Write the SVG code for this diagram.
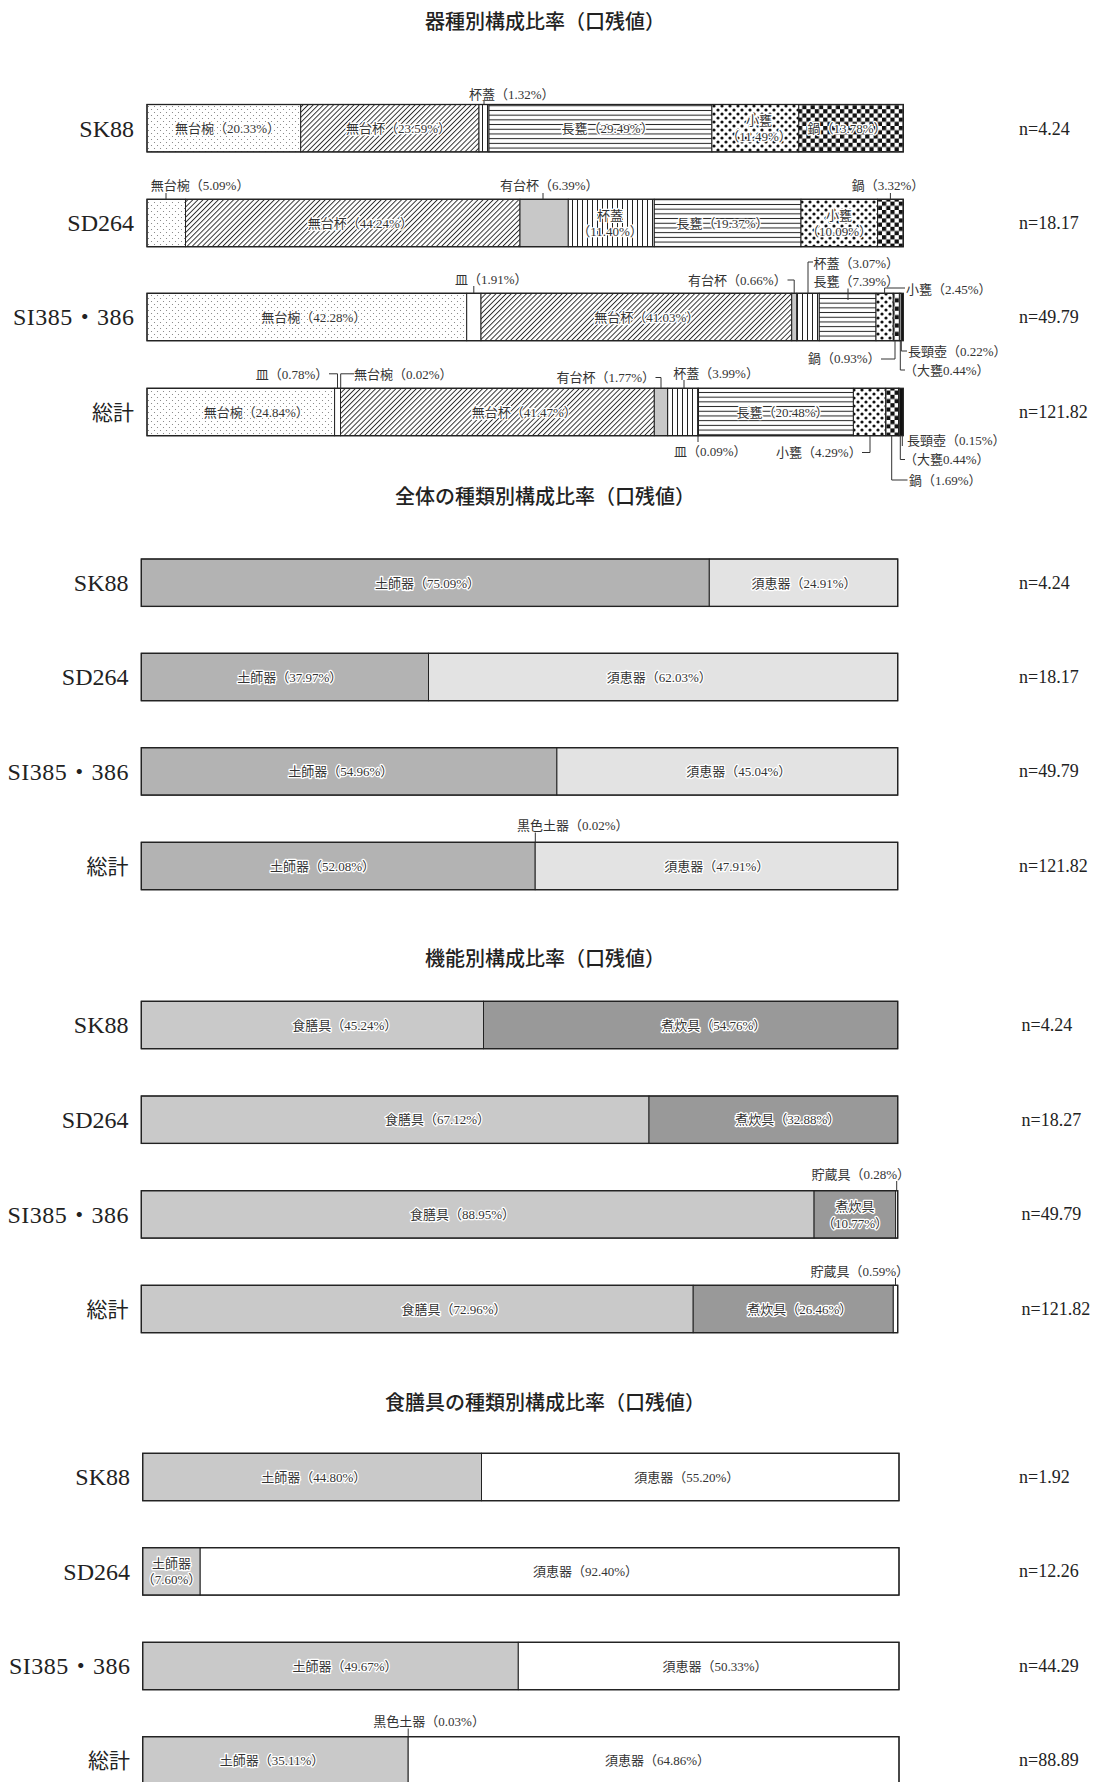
<svg xmlns="http://www.w3.org/2000/svg" width="1096" height="1782" viewBox="0 0 1096 1782">
<style>
.t{font-family:"Liberation Serif","Noto Sans CJK JP",serif;font-size:13px;fill:#333}
.in{fill:#333;stroke:#fff;stroke-width:2.6px;paint-order:stroke;stroke-linejoin:round;text-anchor:middle}
.e{text-anchor:end}
.row{font-family:"Liberation Serif","Noto Sans CJK JP",serif;font-size:24px;text-anchor:end;fill:#222}
.row2{font-family:"Liberation Serif","Noto Sans CJK JP",serif;font-size:21px;text-anchor:end;fill:#222}
.n{font-family:"Liberation Serif",serif;font-size:18px;fill:#222}
.title{font-family:"Noto Sans CJK JP",sans-serif;font-size:20px;font-weight:500;text-anchor:middle;fill:#222}
.s{stroke:#222;stroke-width:1}
.fr{fill:none;stroke:#222;stroke-width:1.3}
.ld{fill:none;stroke:#333;stroke-width:1}
</style>
<defs>
<pattern id="pDots" width="6" height="6" patternUnits="userSpaceOnUse"><rect width="6" height="6" fill="#fff"/><circle cx="1.5" cy="1.5" r="0.55" fill="#777"/><circle cx="4.5" cy="4.5" r="0.55" fill="#777"/></pattern>
<pattern id="pDiag" width="3.6" height="3.6" patternUnits="userSpaceOnUse" patternTransform="rotate(45)"><rect width="3.6" height="3.6" fill="#fff"/><line x1="0.5" y1="0" x2="0.5" y2="3.6" stroke="#222" stroke-width="0.9"/></pattern>
<pattern id="pVert" width="5" height="5" patternUnits="userSpaceOnUse"><rect width="5" height="5" fill="#fff"/><line x1="2.5" y1="0" x2="2.5" y2="5" stroke="#222" stroke-width="1"/></pattern>
<pattern id="pHor" width="4.7" height="4.7" patternUnits="userSpaceOnUse"><rect width="4.7" height="4.7" fill="#fff"/><line x1="0" y1="2.35" x2="4.7" y2="2.35" stroke="#222" stroke-width="1"/></pattern>
<pattern id="pBig" width="8" height="8" patternUnits="userSpaceOnUse"><rect width="8" height="8" fill="#fff"/><circle cx="2" cy="2" r="1.6" fill="#111"/><circle cx="6" cy="6" r="1.6" fill="#111"/></pattern>
<pattern id="pChk" width="8.4" height="8.4" patternUnits="userSpaceOnUse"><rect width="8.4" height="8.4" fill="#fff"/><rect width="4.2" height="4.2" fill="#111"/><rect x="4.2" y="4.2" width="4.2" height="4.2" fill="#111"/></pattern>
</defs>
<rect width="1096" height="1782" fill="#fff"/>

<!-- ===== Chart 1 ===== -->
<g id="title1"><text class="title" x="545" y="28.5">器種別構成比率（口残値）</text></g>

<g id="c1-sk88">
<text class="row" x="134" y="136.5">SK88</text>
<rect class="s" x="147" y="104.5" width="153.7" height="47.4" fill="url(#pDots)"/>
<rect class="s" x="300.7" y="104.5" width="178.3" height="47.4" fill="url(#pDiag)"/>
<rect class="s" x="479" y="104.5" width="10" height="47.4" fill="url(#pVert)"/>
<rect class="s" x="489" y="104.5" width="222.9" height="47.4" fill="url(#pHor)"/>
<rect class="s" x="711.9" y="104.5" width="86.9" height="47.4" fill="url(#pBig)"/>
<rect class="s" x="798.8" y="104.5" width="104.5" height="47.4" fill="url(#pChk)"/>
<rect class="fr" x="147" y="104.5" width="756.3" height="47.4"/>
<text class="t in" x="227.5" y="133">無台椀（20.33%）</text>
<text class="t in" x="398.5" y="133">無台杯（23.59%）</text>
<text class="t in" x="607.6" y="133">長甕（29.49%）</text>
<text class="t in" x="759" y="125">小甕</text>
<text class="t in" x="759" y="141">（11.49%）</text>
<text class="t in" x="847" y="133">鍋（13.78%）</text>
<text class="t" x="469" y="99">杯蓋（1.32%）</text>
<text class="n" x="1019" y="134.5">n=4.24</text>
</g>

<g id="c1-sd264">
<text class="row" x="134" y="231.3">SD264</text>
<rect class="s" x="147" y="199.3" width="38.5" height="47.4" fill="url(#pDots)"/>
<rect class="s" x="185.5" y="199.3" width="334.5" height="47.4" fill="url(#pDiag)"/>
<rect class="s" x="520" y="199.3" width="48.3" height="47.4" fill="#c8c8c8"/>
<rect class="s" x="568.3" y="199.3" width="86" height="47.4" fill="url(#pVert)"/>
<rect class="s" x="654.3" y="199.3" width="146.7" height="47.4" fill="url(#pHor)"/>
<rect class="s" x="801" y="199.3" width="76.5" height="47.4" fill="url(#pBig)"/>
<rect class="s" x="877.5" y="199.3" width="25.8" height="47.4" fill="url(#pChk)"/>
<rect class="fr" x="147" y="199.3" width="756.3" height="47.4"/>
<text class="t in" x="360.4" y="227.7">無台杯（44.24%）</text>
<text class="t in" x="610" y="220">杯蓋</text>
<text class="t in" x="610" y="236">（11.40%）</text>
<text class="t in" x="722.5" y="227.7">長甕（19.37%）</text>
<text class="t in" x="839" y="220">小甕</text>
<text class="t in" x="839" y="236">（10.09%）</text>
<text class="t" x="150.8" y="190">無台椀（5.09%）</text>
<text class="t" x="500" y="190">有台杯（6.39%）</text>
<text class="t" x="851.7" y="190">鍋（3.32%）</text>
<text class="n" x="1019" y="229">n=18.17</text>
</g>

<g id="c1-si385">
<text class="row" x="134" y="325.3" textLength="121" lengthAdjust="spacing">SI385・386</text>
<rect class="s" x="147" y="293.3" width="319.7" height="47.4" fill="url(#pDots)"/>
<rect class="s" x="466.7" y="293.3" width="14.3" height="47.4" fill="#fff"/>
<rect class="s" x="481" y="293.3" width="310.7" height="47.4" fill="url(#pDiag)"/>
<rect class="s" x="791.7" y="293.3" width="5" height="47.4" fill="#c8c8c8"/>
<rect class="s" x="796.7" y="293.3" width="22.6" height="47.4" fill="url(#pVert)"/>
<rect class="s" x="819.3" y="293.3" width="56.7" height="47.4" fill="url(#pHor)"/>
<rect class="s" x="876" y="293.3" width="17.3" height="47.4" fill="url(#pBig)"/>
<rect class="s" x="893.3" y="293.3" width="6.5" height="47.4" fill="url(#pChk)"/>
<rect class="s" x="899.8" y="293.3" width="1.4" height="47.4" fill="#fff"/>
<rect x="901.2" y="293.3" width="2.1" height="47.4" fill="#111"/>
<rect class="fr" x="147" y="293.3" width="756.3" height="47.4"/>
<text class="t in" x="313.8" y="321.7">無台椀（42.28%）</text>
<text class="t in" x="646.7" y="321.7">無台杯（41.03%）</text>
<text class="t" x="455" y="284">皿（1.91%）</text>
<text class="t e" x="786.7" y="284.5">有台杯（0.66%）</text>
<text class="t" x="813.5" y="267.5">杯蓋（3.07%）</text>
<text class="t" x="813.5" y="286">長甕（7.39%）</text>
<text class="t" x="906" y="294">小甕（2.45%）</text>
<text class="t e" x="880.5" y="363">鍋（0.93%）</text>
<text class="t" x="908" y="355.5">長頸壺（0.22%）</text>
<text class="t" x="904" y="374.5">（大甕0.44%）</text>
<text class="n" x="1019" y="323">n=49.79</text>
</g>

<g id="c1-total">
<text class="row2" x="134" y="419.5">総計</text>
<rect class="s" x="147" y="388.3" width="187.6" height="47.4" fill="url(#pDots)"/>
<rect class="s" x="334.6" y="388.3" width="5.9" height="47.4" fill="#fff"/>
<rect class="s" x="340.5" y="388.3" width="313.8" height="47.4" fill="url(#pDiag)"/>
<rect class="s" x="654.3" y="388.3" width="13.4" height="47.4" fill="#c8c8c8"/>
<rect class="s" x="667.7" y="388.3" width="30.1" height="47.4" fill="url(#pVert)"/>
<rect class="s" x="697.8" y="388.3" width="0.7" height="47.4" fill="#fff"/>
<rect class="s" x="698.5" y="388.3" width="154.9" height="47.4" fill="url(#pHor)"/>
<rect class="s" x="853.4" y="388.3" width="32.3" height="47.4" fill="url(#pBig)"/>
<rect class="s" x="885.7" y="388.3" width="12.8" height="47.4" fill="url(#pChk)"/>
<rect class="s" x="898.5" y="388.3" width="1.2" height="47.4" fill="#fff"/>
<rect x="899.7" y="388.3" width="3.6" height="47.4" fill="#111"/>
<rect class="fr" x="147" y="388.3" width="756.3" height="47.4"/>
<text class="t in" x="256.3" y="416.7">無台椀（24.84%）</text>
<text class="t in" x="524.2" y="416.7">無台杯（41.47%）</text>
<text class="t in" x="782.5" y="416.7">長甕（20.48%）</text>
<text class="t e" x="328.3" y="378.5">皿（0.78%）</text>
<text class="t" x="354" y="378.5">無台椀（0.02%）</text>
<text class="t e" x="655" y="382">有台杯（1.77%）</text>
<text class="t" x="673.3" y="378">杯蓋（3.99%）</text>
<text class="t" x="674" y="456">皿（0.09%）</text>
<text class="t e" x="861.7" y="457">小甕（4.29%）</text>
<text class="t" x="907" y="444.5">長頸壺（0.15%）</text>
<text class="t" x="904" y="464">（大甕0.44%）</text>
<text class="t" x="909" y="484.5">鍋（1.69%）</text>
<text class="n" x="1019" y="418">n=121.82</text>
</g>

<!-- ===== Chart 2 ===== -->
<g id="title2"><text class="title" x="545" y="503.5">全体の種類別構成比率（口残値）</text></g>

<g id="c2-sk88">
<text class="row" x="128.5" y="591">SK88</text>
<rect class="s" x="141.3" y="559" width="568" height="47.4" fill="#b3b3b3"/>
<rect class="s" x="709.3" y="559" width="188.4" height="47.4" fill="#e3e3e3"/>
<rect class="fr" x="141.3" y="559" width="756.4" height="47.4"/>
<text class="t in" x="427.5" y="587.5">土師器（75.09%）</text>
<text class="t in" x="804" y="587.5">須恵器（24.91%）</text>
<text class="n" x="1019" y="589">n=4.24</text>
</g>
<g id="c2-sd264">
<text class="row" x="128.5" y="685.3">SD264</text>
<rect class="s" x="141.3" y="653.3" width="287.2" height="47.4" fill="#b3b3b3"/>
<rect class="s" x="428.5" y="653.3" width="469.2" height="47.4" fill="#e3e3e3"/>
<rect class="fr" x="141.3" y="653.3" width="756.4" height="47.4"/>
<text class="t in" x="289.7" y="681.8">土師器（37.97%）</text>
<text class="t in" x="659.3" y="681.8">須恵器（62.03%）</text>
<text class="n" x="1019" y="683">n=18.17</text>
</g>
<g id="c2-si385">
<text class="row" x="128.5" y="779.7" textLength="121" lengthAdjust="spacing">SI385・386</text>
<rect class="s" x="141.3" y="747.7" width="415.6" height="47.4" fill="#b3b3b3"/>
<rect class="s" x="556.9" y="747.7" width="340.8" height="47.4" fill="#e3e3e3"/>
<rect class="fr" x="141.3" y="747.7" width="756.4" height="47.4"/>
<text class="t in" x="340.8" y="776.2">土師器（54.96%）</text>
<text class="t in" x="738.7" y="776.2">須恵器（45.04%）</text>
<text class="n" x="1019" y="777.4">n=49.79</text>
</g>
<g id="c2-total">
<text class="row2" x="128.5" y="873.5">総計</text>
<rect class="s" x="141.3" y="842.3" width="393.9" height="47.4" fill="#b3b3b3"/>
<rect class="s" x="535.2" y="842.3" width="362.5" height="47.4" fill="#e3e3e3"/>
<rect class="fr" x="141.3" y="842.3" width="756.4" height="47.4"/>
<text class="t in" x="322.5" y="870.8">土師器（52.08%）</text>
<text class="t in" x="716.7" y="870.8">須恵器（47.91%）</text>
<text class="t" x="517" y="830">黒色土器（0.02%）</text>
<text class="n" x="1019" y="872">n=121.82</text>
</g>

<!-- ===== Chart 3 ===== -->
<g id="title3"><text class="title" x="545" y="966">機能別構成比率（口残値）</text></g>

<g id="c3-sk88">
<text class="row" x="128.5" y="1033.3">SK88</text>
<rect class="s" x="141.3" y="1001.3" width="342.2" height="47.4" fill="#c9c9c9"/>
<rect class="s" x="483.5" y="1001.3" width="414.2" height="47.4" fill="#999"/>
<rect class="fr" x="141.3" y="1001.3" width="756.4" height="47.4"/>
<text class="t in" x="344.7" y="1029.7">食膳具（45.24%）</text>
<text class="t in" x="713.8" y="1029.7">煮炊具（54.76%）</text>
<text class="n" x="1021.5" y="1031">n=4.24</text>
</g>
<g id="c3-sd264">
<text class="row" x="128.5" y="1128">SD264</text>
<rect class="s" x="141.3" y="1096" width="507.7" height="47.4" fill="#c9c9c9"/>
<rect class="s" x="649" y="1096" width="248.7" height="47.4" fill="#999"/>
<rect class="fr" x="141.3" y="1096" width="756.4" height="47.4"/>
<text class="t in" x="437.5" y="1124.4">食膳具（67.12%）</text>
<text class="t in" x="787.8" y="1124.4">煮炊具（32.88%）</text>
<text class="n" x="1021.5" y="1125.7">n=18.27</text>
</g>
<g id="c3-si385">
<text class="row" x="128.5" y="1222.7" textLength="121" lengthAdjust="spacing">SI385・386</text>
<rect class="s" x="141.3" y="1190.7" width="672.8" height="47.4" fill="#c9c9c9"/>
<rect class="s" x="814.1" y="1190.7" width="81.5" height="47.4" fill="#999"/>
<rect class="s" x="895.6" y="1190.7" width="2.1" height="47.4" fill="#fff"/>
<rect class="fr" x="141.3" y="1190.7" width="756.4" height="47.4"/>
<text class="t in" x="462.5" y="1219">食膳具（88.95%）</text>
<text class="t in" x="855" y="1211">煮炊具</text>
<text class="t in" x="855" y="1227.5">（10.77%）</text>
<text class="t e" x="910" y="1179">貯蔵具（0.28%）</text>
<text class="n" x="1021.5" y="1220.4">n=49.79</text>
</g>
<g id="c3-total">
<text class="row2" x="128.5" y="1316.5">総計</text>
<rect class="s" x="141.3" y="1285.3" width="551.9" height="47.4" fill="#c9c9c9"/>
<rect class="s" x="693.2" y="1285.3" width="200.1" height="47.4" fill="#999"/>
<rect class="s" x="893.3" y="1285.3" width="4.4" height="47.4" fill="#fff"/>
<rect class="fr" x="141.3" y="1285.3" width="756.4" height="47.4"/>
<text class="t in" x="454" y="1313.7">食膳具（72.96%）</text>
<text class="t in" x="799.8" y="1313.7">煮炊具（26.46%）</text>
<text class="t e" x="909" y="1276">貯蔵具（0.59%）</text>
<text class="n" x="1021.5" y="1315">n=121.82</text>
</g>

<!-- ===== Chart 4 ===== -->
<g id="title4"><text class="title" x="545" y="1410">食膳具の種類別構成比率（口残値）</text></g>

<g id="c4-sk88">
<text class="row" x="130" y="1485.3">SK88</text>
<rect class="s" x="142.7" y="1453.3" width="338.8" height="47.4" fill="#c9c9c9"/>
<rect class="s" x="481.5" y="1453.3" width="417.5" height="47.4" fill="#fff"/>
<rect class="fr" x="142.7" y="1453.3" width="756.3" height="47.4"/>
<text class="t in" x="313.8" y="1481.7">土師器（44.80%）</text>
<text class="t in" x="686.7" y="1481.7">須恵器（55.20%）</text>
<text class="n" x="1019" y="1483">n=1.92</text>
</g>
<g id="c4-sd264">
<text class="row" x="130" y="1579.7">SD264</text>
<rect class="s" x="142.7" y="1547.7" width="57.5" height="47.4" fill="#c9c9c9"/>
<rect class="s" x="200.2" y="1547.7" width="698.8" height="47.4" fill="#fff"/>
<rect class="fr" x="142.7" y="1547.7" width="756.3" height="47.4"/>
<text class="t in" x="171.5" y="1567.5">土師器</text>
<text class="t in" x="171.5" y="1584">（7.60%）</text>
<text class="t in" x="585.5" y="1576.1">須恵器（92.40%）</text>
<text class="n" x="1019" y="1577.4">n=12.26</text>
</g>
<g id="c4-si385">
<text class="row" x="130" y="1674.3" textLength="121" lengthAdjust="spacing">SI385・386</text>
<rect class="s" x="142.7" y="1642.3" width="375.6" height="47.4" fill="#c9c9c9"/>
<rect class="s" x="518.3" y="1642.3" width="380.7" height="47.4" fill="#fff"/>
<rect class="fr" x="142.7" y="1642.3" width="756.3" height="47.4"/>
<text class="t in" x="345" y="1670.7">土師器（49.67%）</text>
<text class="t in" x="715" y="1670.7">須恵器（50.33%）</text>
<text class="n" x="1019" y="1672">n=44.29</text>
</g>
<g id="c4-total">
<text class="row2" x="130" y="1768">総計</text>
<rect class="s" x="142.7" y="1736.7" width="265.5" height="47.4" fill="#c9c9c9"/>
<rect class="s" x="408.2" y="1736.7" width="490.8" height="47.4" fill="#fff"/>
<rect class="fr" x="142.7" y="1736.7" width="756.3" height="47.4"/>
<text class="t in" x="272" y="1765">土師器（35.11%）</text>
<text class="t in" x="657.5" y="1765">須恵器（64.86%）</text>
<text class="t" x="373.3" y="1726">黒色土器（0.03%）</text>
<text class="n" x="1019" y="1766.4">n=88.89</text>
</g>

<!-- ===== Connectors (leader lines) ===== -->
<g id="connectors" class="ld">
<path d="M484,101 V104.5"/>
<path d="M166,193 V199.3"/>
<path d="M543,193 V199.3"/>
<path d="M890.4,193 V199.3"/>
<path d="M473.8,286 V293.3"/>
<path d="M787.5,280 H794.2 V293.3"/>
<path d="M813,262 H808 V293.3"/>
<path d="M848,288.5 V300"/>
<path d="M905,288 H884.6 V293.3"/>
<path d="M881,359 H895 V340.7"/>
<path d="M901.3,340.7 V351 H907"/>
<path d="M900.3,340.7 V370 H905"/>
<path d="M329,373.8 H337.5 V388.3"/>
<path d="M354,373.8 H340.7 V388.3"/>
<path d="M655.5,377.5 H661 V388.3"/>
<path d="M684,380 V388.3"/>
<path d="M698,435.7 V442"/>
<path d="M862,452.5 H870 V435.7"/>
<path d="M902.3,435.7 V446"/>
<path d="M900.3,435.7 V459.5 H905"/>
<path d="M891.7,435.7 V480 H907.5"/>
<path d="M535.3,832.5 V842.3"/>
<path d="M896.7,1181 V1190.7"/>
<path d="M895.5,1278 V1285.3"/>
<path d="M408.2,1728.5 V1736.7"/>
</g>
</svg>
